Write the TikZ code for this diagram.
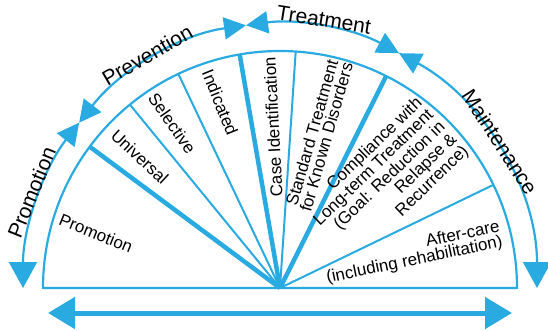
\documentclass[tikz,border=0pt]{standalone}
\usepackage{fontspec}
\setmainfont{Liberation Sans}
\usepackage{tikz}
\usepackage{xcolor}
\usetikzlibrary{arrows.meta,positioning,calc}

\definecolor{cyanline}{RGB}{41,171,226}

\begin{document}
\begin{tikzpicture}[
          x=1pt, y=1pt,
          rim/.style={draw=cyanline, line width=2.2pt},
          spoke/.style={draw=cyanline, line width=2pt},
          thickspoke/.style={draw=cyanline, line width=4.5pt},
          phase/.style={draw=cyanline, line width=2.2pt},
          span/.style={draw=cyanline, line width=5pt},
          outerlabel/.style={font=\fontsize{21}{21}\selectfont, inner sep=0pt},
          sector/.style={font=\fontsize{17}{15}\selectfont, inner sep=0pt},
          endtip/.tip={Triangle[length=26pt, width=28pt]},
          midtip/.tip={Triangle[length=22pt, width=22pt]},
          spantip/.tip={Triangle[length=27pt, width=31pt]}
        ]
          \useasboundingbox (0,0) rectangle (548,330);

          % Centre of the half disc
          \coordinate (c) at (280,42);

          % Inner half disc
          \draw[rim] ($(c)+(0:237)$) arc[start angle=0, end angle=180, radius=237] -- cycle;

          % Sector dividers
          \coordinate (s1) at ($(c)+(143.4:237)$);
          \coordinate (s2) at ($(c)+(129.3:237)$);
          \coordinate (s3) at ($(c)+(115.4:237)$);
          \coordinate (s4) at ($(c)+(99.8:237)$);
          \coordinate (s5) at ($(c)+(86.2:237)$);
          \coordinate (s6) at ($(c)+(63.4:237)$);
          \coordinate (s7) at ($(c)+(25.8:237)$);
          \draw[thickspoke] (c) -- (s1);
          \draw[spoke] (c) -- (s2);
          \draw[spoke] (c) -- (s3);
          \draw[thickspoke] (c) -- (s4);
          \draw[spoke] (c) -- (s5);
          \draw[thickspoke] (c) -- (s6);
          \draw[spoke] (c) -- (s7);

          % Outer phase arrows
          \coordinate (o4) at ($(c)+(180:257 and 265)$);
          \coordinate (o3) at ($(c)+(141.4:257 and 265)$);
          \coordinate (o2) at ($(c)+(97.6:257 and 265)$);
          \coordinate (o1) at ($(c)+(62.4:257 and 265)$);
          \coordinate (o0) at ($(c)+(0:257 and 265)$);
          \draw[phase, midtip-endtip] (o3) arc[start angle=141.4, end angle=180, x radius=257, y radius=265];
          \draw[phase, midtip-midtip] (o2) arc[start angle=97.6, end angle=141.4, x radius=257, y radius=265];
          \draw[phase, midtip-midtip] (o1) arc[start angle=62.4, end angle=97.6, x radius=257, y radius=265];
          \draw[phase, midtip-endtip] (o1) arc[start angle=62.4, end angle=0, x radius=257, y radius=265];

          % Phase labels
          \node[outerlabel, rotate=68] (lpromo) at ($(c)+(159:266)$) {Promotion};
          \node[outerlabel, rotate=30] (lprev) at ($(c)+(119.7:268)$) {Prevention};
          \node[outerlabel, rotate=-9] (ltreat) at ($(c)+(80.7:272)$) {Treatment};
          \node[outerlabel, rotate=-57] (lmaint) at ($(c)+(33.6:264)$) {Maintenance};

          % Sector labels
          \node[sector, rotate=-22] (promo) at ($(c)+(163.4:192)$) {Promotion};
          \node[sector, rotate=-43] (univ) at ($(c)+(136.9:192)$) {Universal};
          \node[sector, rotate=-55] (selec) at ($(c)+(123.2:197)$) {Selective};
          \node[sector, rotate=-68] (indic) at ($(c)+(107.9:195)$) {Indicated};
          \node[sector, rotate=93] (caseid) at ($(c)+(92.5:161)$) {Case Identification};
          \node[sector, rotate=74, align=center] (stand) at ($(c)+(75.7:158)$) {Standard Treatment\\for Known Disorders};
          \node[sector, rotate=44, align=right] (compl) at ($(c)+(45.5:151)$) {Compliance with\\Long-term Treatment\\(Goal: Reduction in\\Relapse \&\\Recurrence)};
          \node[sector, rotate=11.7, align=right] (after) at ($(c)+(14.7:137.5)$) {After-care\\(including rehabilitation)};

          % Bottom span arrow
          \coordinate (bl) at (48,17);
          \coordinate (br) at (512,17);
          \draw[span, spantip-spantip] (bl) -- (br);

        \end{tikzpicture}
\end{document}
